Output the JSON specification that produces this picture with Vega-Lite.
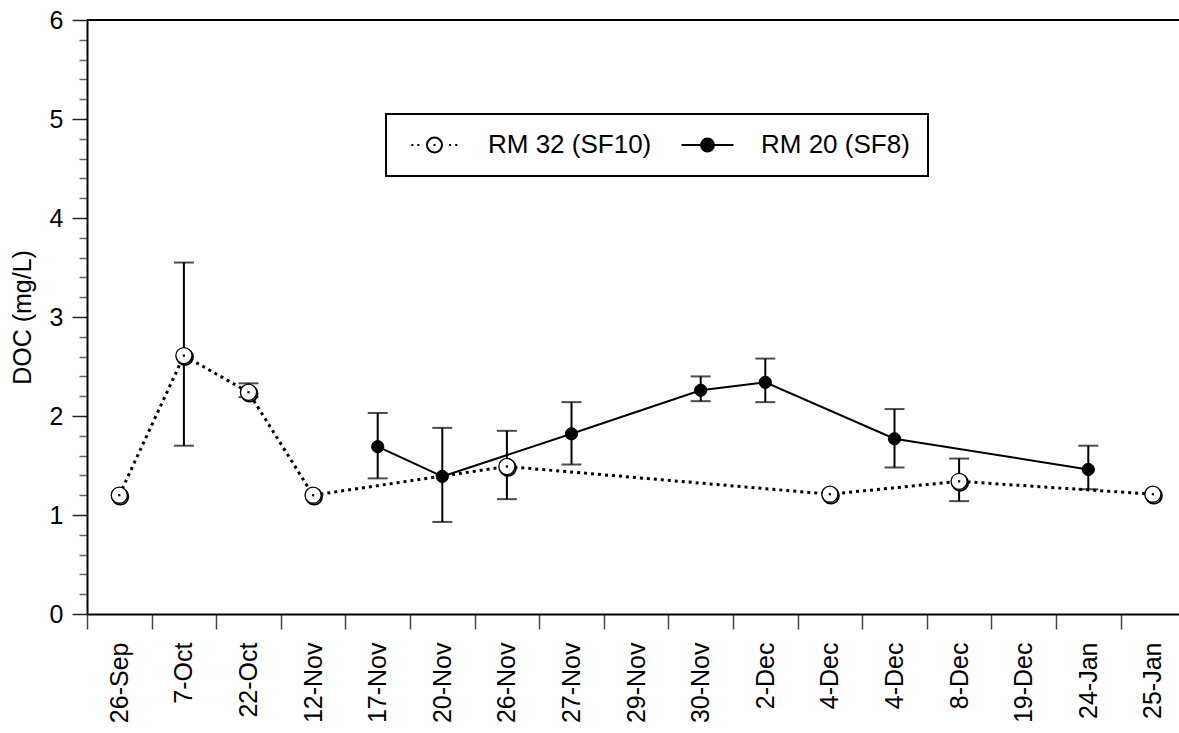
{
  "$schema": "https://vega.github.io/schema/vega-lite/v6.json",
  "width": 1092,
  "height": 594,
  "autosize": {"type": "none"},
  "padding": {"left": 87, "top": 20, "right": 0, "bottom": 119},
  "background": "white",
  "config": {
    "view": {"stroke": null},
    "font": "Liberation Sans",
    "axis": {"labelFont": "Liberation Sans", "labelFontSize": 25, "titleFont": "Liberation Sans", "titleFontSize": 25, "labelColor": "black", "titleColor": "black"}
  },
  "data": {
    "values": [
      {"i": 0, "s": "RM 32 (SF10)", "v": 1.2, "lo": null, "hi": null},
      {"i": 1, "s": "RM 32 (SF10)", "v": 2.61, "lo": 1.70, "hi": 3.55},
      {"i": 2, "s": "RM 32 (SF10)", "v": 2.24, "lo": 2.19, "hi": 2.33},
      {"i": 3, "s": "RM 32 (SF10)", "v": 1.2, "lo": null, "hi": null},
      {"i": 6, "s": "RM 32 (SF10)", "v": 1.49, "lo": 1.16, "hi": 1.85},
      {"i": 11, "s": "RM 32 (SF10)", "v": 1.21, "lo": null, "hi": null},
      {"i": 13, "s": "RM 32 (SF10)", "v": 1.34, "lo": 1.14, "hi": 1.57},
      {"i": 16, "s": "RM 32 (SF10)", "v": 1.21, "lo": null, "hi": null},
      {"i": 4, "s": "RM 20 (SF8)", "v": 1.69, "lo": 1.37, "hi": 2.03},
      {"i": 5, "s": "RM 20 (SF8)", "v": 1.39, "lo": 0.93, "hi": 1.88},
      {"i": 7, "s": "RM 20 (SF8)", "v": 1.82, "lo": 1.51, "hi": 2.14},
      {"i": 9, "s": "RM 20 (SF8)", "v": 2.26, "lo": 2.15, "hi": 2.40},
      {"i": 10, "s": "RM 20 (SF8)", "v": 2.34, "lo": 2.14, "hi": 2.58},
      {"i": 12, "s": "RM 20 (SF8)", "v": 1.77, "lo": 1.48, "hi": 2.07},
      {"i": 15, "s": "RM 20 (SF8)", "v": 1.46, "lo": 1.26, "hi": 1.70}
    ]
  },
  "layer": [
    {
      "transform": [{"filter": "datum.lo != null"}],
      "mark": {"type": "rule", "color": "black", "strokeWidth": 2},
      "encoding": {
        "x": {
          "field": "i", "type": "quantitative",
          "scale": {"domain": [-0.5, 16.404], "nice": false, "zero": false},
          "axis": {
            "values": [0,1,2,3,4,5,6,7,8,9,10,11,12,13,14,15,16],
            "tickCount": 100,
            "labelExpr": "['26-Sep','7-Oct','22-Oct','12-Nov','17-Nov','20-Nov','26-Nov','27-Nov','29-Nov','30-Nov','2-Dec','4-Dec','4-Dec','8-Dec','19-Dec','24-Jan','25-Jan'][datum.value]",
            "labelAngle": -90,
            "labelAlign": "right",
            "labelBaseline": "middle",
            "labelFont": "Liberation Sans",
            "labelFontSize": 25,
            "labelColor": "black",
            "labelPadding": 13,
            "labelOverlap": false,
            "labelBound": false,
            "labelFlush": false,
            "tickOffset": -32.3,
            "labelOffset": 32.3,
            "tickSize": 15,
            "tickWidth": 1.5,
            "tickColor": "#444444",
            "domainColor": "black",
            "domainWidth": 2,
            "grid": false,
            "title": null
          }
        },
        "y": {
          "field": "lo", "type": "quantitative",
          "scale": {"domain": [0, 6], "nice": false, "zero": false},
          "axis": {
            "values": [0,0.2,0.4,0.6,0.8,1,1.2,1.4,1.6,1.8,2,2.2,2.4,2.6,2.8,3,3.2,3.4,3.6,3.8,4,4.2,4.4,4.6,4.8,5,5.2,5.4,5.6,5.8,6],
            "tickCount": 100,
            "labelExpr": "abs(datum.value - round(datum.value)) < 0.001 ? format(datum.value, 'd') : ''",
            "labelOverlap": false,
            "labelBound": false,
            "labelFlush": false,
            "tickSize": {"condition": {"test": "abs(datum.value - round(datum.value)) < 0.001", "value": 15}, "value": 8},
            "tickColor": {"condition": {"test": "abs(datum.value - round(datum.value)) < 0.001", "value": "#222222"}, "value": "#666666"},
            "tickWidth": 1.5,
            "labelFont": "Liberation Sans",
            "labelFontSize": 25,
            "labelColor": "black",
            "labelPadding": 9,
            "domainColor": "black",
            "domainWidth": 2,
            "grid": false,
            "title": "DOC (mg/L)",
            "titleFont": "Liberation Sans",
            "titleFontSize": 25,
            "titleFontWeight": "normal",
            "titleColor": "black",
            "titlePadding": 14
          }
        },
        "y2": {"field": "hi"}
      }
    },
    {
      "mark": {"type": "rule", "color": "black", "strokeWidth": 2},
      "encoding": {"y": {"datum": 6, "type": "quantitative"}}
    },
    {
      "transform": [{"filter": "datum.lo != null"}],
      "mark": {"type": "tick", "orient": "horizontal", "color": "black", "size": 20, "thickness": 2},
      "encoding": {
        "x": {"field": "i", "type": "quantitative"},
        "y": {"field": "lo", "type": "quantitative"}
      }
    },
    {
      "transform": [{"filter": "datum.lo != null"}],
      "mark": {"type": "tick", "orient": "horizontal", "color": "black", "size": 20, "thickness": 2},
      "encoding": {
        "x": {"field": "i", "type": "quantitative"},
        "y": {"field": "hi", "type": "quantitative"}
      }
    },
    {
      "transform": [{"filter": "datum.s === 'RM 32 (SF10)'"}],
      "mark": {"type": "line", "color": "black", "strokeWidth": 3, "strokeDash": [3, 4]},
      "encoding": {
        "x": {"field": "i", "type": "quantitative"},
        "y": {"field": "v", "type": "quantitative"}
      }
    },
    {
      "transform": [{"filter": "datum.s === 'RM 20 (SF8)'"}],
      "mark": {"type": "line", "color": "black", "strokeWidth": 2},
      "encoding": {
        "x": {"field": "i", "type": "quantitative"},
        "y": {"field": "v", "type": "quantitative"}
      }
    },
    {
      "transform": [{"filter": "datum.s === 'RM 32 (SF10)'"}],
      "mark": {"type": "point", "shape": "circle", "filled": false, "stroke": "black", "strokeWidth": 1.8, "size": 260, "xOffset": 1, "yOffset": 1.4, "opacity": 1},
      "encoding": {
        "x": {"field": "i", "type": "quantitative"},
        "y": {"field": "v", "type": "quantitative"}
      }
    },
    {
      "transform": [{"filter": "datum.s === 'RM 32 (SF10)'"}],
      "mark": {"type": "point", "shape": "circle", "filled": true, "stroke": "black", "strokeWidth": 1.3, "size": 260, "opacity": 1},
      "encoding": {
        "x": {"field": "i", "type": "quantitative"},
        "y": {"field": "v", "type": "quantitative"},
        "fill": {
          "field": "s", "type": "nominal",
          "scale": {"domain": ["RM 32 (SF10)", "RM 20 (SF8)"], "range": ["white", "black"]},
          "legend": {
            "orient": "none",
            "legendX": 299,
            "legendY": 94,
            "direction": "horizontal",
            "title": null,
            "padding": 18,
            "columnPadding": 25,
            "symbolSize": 576,
            "symbolStrokeColor": "black",
            "symbolStrokeWidth": 2,
            "symbolOpacity": 1,
            "labelFont": "Liberation Sans",
            "labelFontSize": 26,
            "labelColor": "black",
            "labelOffset": 58,
            "labelLimit": 0,
            "strokeColor": "black",
            "fillColor": "white",
            "encode": {
              "legend": {"update": {"strokeWidth": {"value": 2}}},
              "symbols": {
                "update": {
                  "shape": {"signal": "datum.value === 'RM 32 (SF10)' ? 'M-0.475,0L-0.305,0M0.025,0L0.195,0M2.665,0L2.835,0M3.185,0L3.355,0M1.373,0L1.543,0M0.833,0A0.625,0.625 0 1,0 2.083,0A0.625,0.625 0 1,0 0.833,0Z' : 'M-0.71,0L3.625,0M0.918,0A0.54,0.54 0 1,0 1.998,0A0.54,0.54 0 1,0 0.918,0Z'"}
                }
              }
            }
          }
        }
      }
    },
    {
      "transform": [{"filter": "datum.s === 'RM 32 (SF10)'"}],
      "mark": {"type": "point", "shape": "square", "filled": true, "color": "black", "size": 5, "opacity": 1},
      "encoding": {
        "x": {"field": "i", "type": "quantitative"},
        "y": {"field": "v", "type": "quantitative"}
      }
    },
    {
      "transform": [{"filter": "datum.s === 'RM 20 (SF8)'"}],
      "mark": {"type": "point", "shape": "circle", "filled": true, "stroke": "black", "strokeWidth": 1, "size": 150, "opacity": 1},
      "encoding": {
        "x": {"field": "i", "type": "quantitative"},
        "y": {"field": "v", "type": "quantitative"},
        "fill": {"field": "s", "type": "nominal"}
      }
    }
  ]
}
